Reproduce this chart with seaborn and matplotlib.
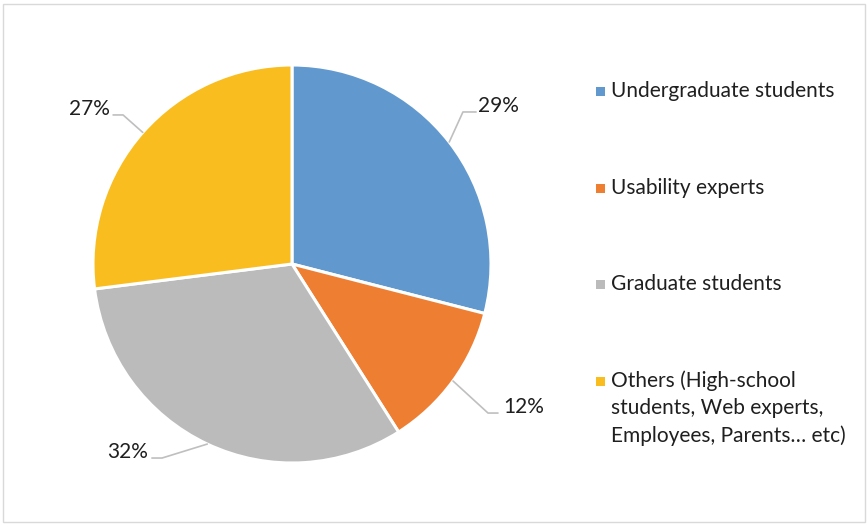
import numpy as np
import matplotlib
matplotlib.use("Agg")
import matplotlib.pyplot as plt
import seaborn as sns
from matplotlib.patches import Rectangle

categories = ["Undergraduate students", "Usability experts", "Graduate students",
              "Others (High-school\nstudents, Web experts,\nEmployees, Parents… etc)"]
values = [29, 12, 32, 27]
colors = ["#6199CF", "#EE7E32", "#BBBBBB", "#F9BD1F"]

sns.set_theme(style="white")
plt.rcParams['font.family'] = ['Lato', 'DejaVu Sans']

W, H = 867, 524
fig = plt.figure(figsize=(W / 100, H / 100), dpi=100)
fig.patch.set_facecolor("white")

# frame
fig.add_artist(Rectangle((3 / W, 2 / H), (W - 5) / W, (H - 6) / H, transform=fig.transFigure,
                         fill=False, edgecolor="#D9D9D9", linewidth=1.0))

cx, cy, r = 292, 264, 199
ax = fig.add_axes([(cx - r) / W, (H - cy - r) / H, 2 * r / W, 2 * r / H])
wedges, _ = ax.pie(values, colors=colors, startangle=90, counterclock=False,
                   wedgeprops=dict(edgecolor="white", linewidth=2.2))
ax.set_xlim(-1, 1)
ax.set_ylim(-1, 1)
ax.set_aspect("equal")
ax.set_clip_on(False)

# label layout: elbow point, end of horizontal, text anchor (data units)
layout = [
    ((0.859, 0.764), (0.925, 0.764), (0.935, 0.796), "left"),
    ((0.985, -0.749), (1.035, -0.749), (1.06, -0.717), "left"),
    ((-0.653, -0.975), (-0.704, -0.975), (-0.724, -0.945), "right"),
    ((-0.849, 0.749), (-0.899, 0.749), (-0.915, 0.779), "right"),
]
total = sum(values)
for w, v, (elbow, end, txt, ha) in zip(wedges, values, layout):
    mid = np.deg2rad((w.theta1 + w.theta2) / 2)
    edge = (np.cos(mid), np.sin(mid))
    ax.plot([edge[0], elbow[0], end[0]], [edge[1], elbow[1], end[1]],
            color="#BFBFBF", linewidth=1.2, clip_on=False)
    ax.text(txt[0], txt[1], f"{round(100 * v / total)}%", ha=ha, va="center",
            fontsize=15, color="#1F1F1F", clip_on=False)

# legend
rows_y = [91, 188, 284, 381]
for lab, col, y in zip(categories, colors, rows_y):
    fig.add_artist(Rectangle((596 / W, (H - y - 4.5) / H), 9 / W, 9 / H,
                             transform=fig.transFigure, facecolor=col, edgecolor="none"))
    if "\n" in lab:
        fig.text(611 / W, (H - y + 11) / H, lab, ha="left", va="top",
                 fontsize=15, color="#1F1F1F", linespacing=1.45)
    else:
        fig.text(611 / W, (H - y) / H, lab, ha="left", va="center",
                 fontsize=15, color="#1F1F1F")

fig.savefig("out.png", dpi=100, facecolor="white")
